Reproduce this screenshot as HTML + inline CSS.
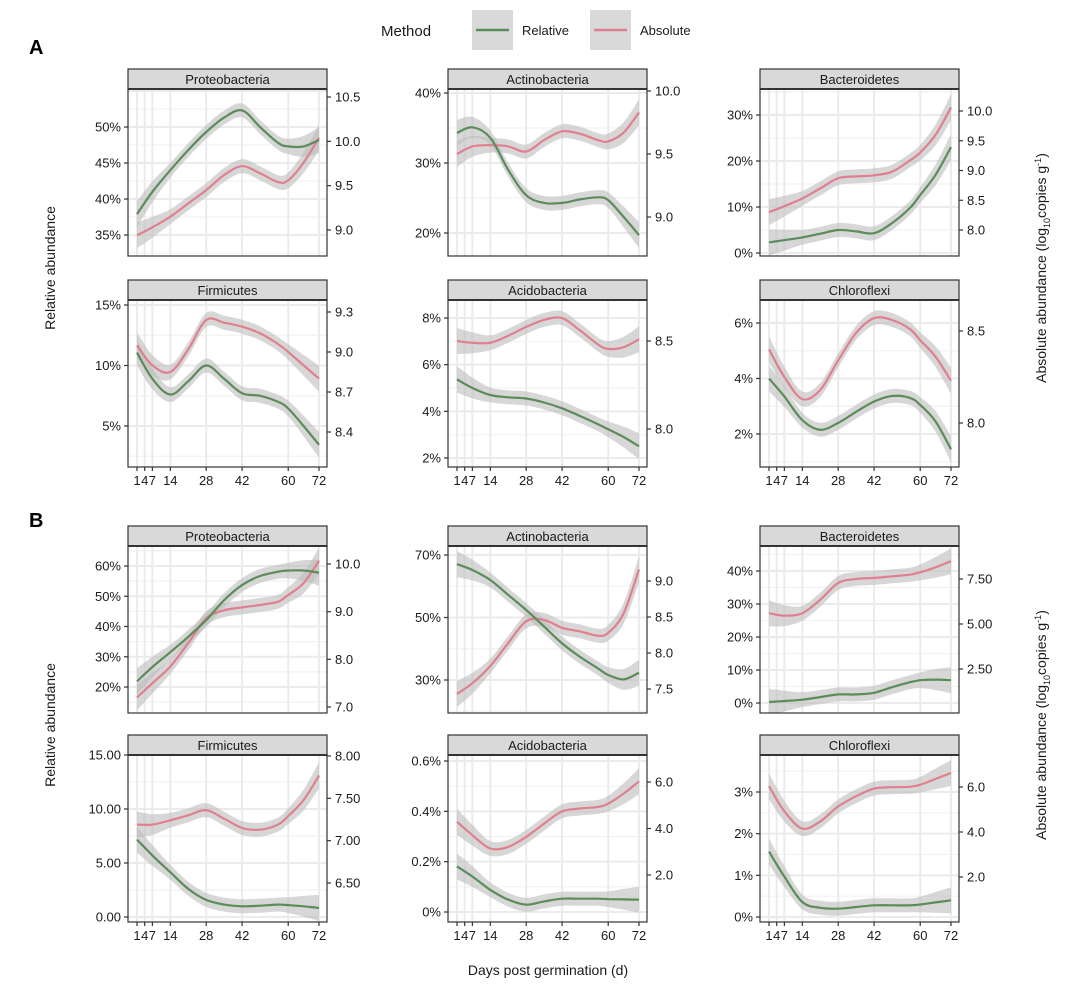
<!DOCTYPE html>
<html><head><meta charset="utf-8"><style>
body{margin:0;background:#fff;}
svg{display:block;font-family:"Liberation Sans",Arial,sans-serif;}
</style></head><body>
<svg id="fig" width="1080" height="984" viewBox="0 0 1080 984" xmlns="http://www.w3.org/2000/svg">
<g>
<text x="381" y="36" font-size="15" fill="#1a1a1a">Method</text>
<rect x="472" y="10" width="41" height="40" fill="#d9d9d9"/>
<line x1="476" y1="30" x2="509" y2="30" stroke="#5b8c5a" stroke-width="2.5"/>
<text x="522" y="35" font-size="13" fill="#1a1a1a">Relative</text>
<rect x="590" y="10" width="41" height="40" fill="#d9d9d9"/>
<line x1="594" y1="30" x2="627" y2="30" stroke="#e0808f" stroke-width="2.5"/>
<text x="640" y="35" font-size="13" fill="#1a1a1a">Absolute</text>
</g>
<text x="29" y="54" font-size="20" font-weight="bold">A</text>
<text x="29" y="527" font-size="20" font-weight="bold">B</text>
<text transform="translate(55,268) rotate(-90)" text-anchor="middle" font-size="14" fill="#1a1a1a">Relative abundance</text>
<text transform="translate(55,725) rotate(-90)" text-anchor="middle" font-size="14" fill="#1a1a1a">Relative abundance</text>
<text transform="translate(1046,268) rotate(-90)" text-anchor="middle" font-size="14" fill="#1a1a1a">Absolute abundance (log<tspan font-size="9" dy="4">10</tspan><tspan dy="-4">copies g</tspan><tspan font-size="9" dy="-5">-1</tspan><tspan dy="5">)</tspan></text>
<text transform="translate(1046,725) rotate(-90)" text-anchor="middle" font-size="14" fill="#1a1a1a">Absolute abundance (log<tspan font-size="9" dy="4">10</tspan><tspan dy="-4">copies g</tspan><tspan font-size="9" dy="-5">-1</tspan><tspan dy="5">)</tspan></text>
<text x="548" y="975" text-anchor="middle" font-size="14" fill="#1a1a1a">Days post germination (d)</text>
</svg>
<script>
const days = [1,7,14,21,28,35,42,49,56,60,66,72];
const xTickDays = [1,4,7,14,28,42,60,72];
const panelNames = ["Proteobacteria","Actinobacteria","Bacteroidetes","Firmicutes","Acidobacteria","Chloroflexi","Proteobacteria","Actinobacteria","Bacteroidetes","Firmicutes","Acidobacteria","Chloroflexi"];
// relative abundance (left axis units)
const relA1 = [37.9,41.0,44.0,46.8,49.3,51.3,52.3,50.0,47.8,47.3,47.3,48.2];
const relA2 = [34.3,35.1,33.6,29.0,25.4,24.3,24.3,24.8,25.1,24.7,22.3,19.7];
const relA3 = [2.3,2.8,3.4,4.2,5.0,4.7,4.3,6.5,9.8,12.6,17.0,23.0];
const relA4 = [11.07,8.9,7.6,8.7,10.0,8.9,7.7,7.5,7.0,6.45,5.0,3.45];
const relA5 = [5.37,5.0,4.7,4.6,4.55,4.38,4.13,3.8,3.45,3.23,2.9,2.5];
const relA6 = [4.0,3.35,2.5,2.15,2.4,2.8,3.17,3.37,3.3,3.05,2.45,1.45];
const relB1 = [21.9,26.6,31.5,36.6,42.1,48.7,53.7,56.7,58.1,58.5,58.5,57.8];
const relB2 = [67.1,65.2,62.0,57.2,52.4,47.1,41.7,37.4,33.7,31.6,30.2,32.3];
const relB3 = [0.3,0.6,1.0,1.8,2.6,2.6,3.1,4.8,6.3,6.9,7.1,6.9];
const relB4 = [7.17,5.7,4.15,2.6,1.58,1.15,0.99,1.05,1.15,1.1,0.99,0.84];
const relB5 = [0.181,0.141,0.088,0.049,0.029,0.042,0.053,0.053,0.053,0.051,0.05,0.049];
const relB6 = [1.57,0.97,0.36,0.22,0.2,0.24,0.28,0.28,0.28,0.30,0.35,0.40];
// absolute abundance (right axis, log10 copies/g)
const absA1 = [8.94,9.03,9.15,9.3,9.45,9.62,9.72,9.64,9.54,9.56,9.76,10.04];
const absA2 = [9.5,9.56,9.57,9.56,9.52,9.61,9.68,9.66,9.61,9.6,9.67,9.83];
const absA3 = [8.3,8.4,8.53,8.7,8.87,8.9,8.92,8.98,9.17,9.3,9.6,10.06];
const absA4 = [9.05,8.9,8.85,9.02,9.24,9.22,9.19,9.14,9.06,9.0,8.9,8.8];
const absA5 = [8.5,8.49,8.49,8.53,8.58,8.62,8.63,8.56,8.48,8.455,8.465,8.51];
const absA6 = [8.40,8.25,8.13,8.18,8.34,8.49,8.57,8.56,8.51,8.45,8.36,8.23];
const absB1 = [7.2,7.5,7.85,8.34,8.86,9.03,9.09,9.14,9.21,9.35,9.6,10.07];
const absB2 = [7.43,7.58,7.82,8.14,8.44,8.46,8.35,8.3,8.24,8.28,8.55,9.16];
const absB3 = [5.6,5.46,5.6,6.35,7.28,7.5,7.56,7.65,7.74,7.87,8.15,8.49];
const absB4 = [7.19,7.19,7.24,7.3,7.36,7.26,7.15,7.13,7.19,7.29,7.48,7.77];
const absB5 = [4.29,3.71,3.14,3.21,3.64,4.21,4.74,4.86,4.93,5.07,5.5,6.03];
const absB6 = [6.03,4.92,4.15,4.47,5.14,5.59,5.93,5.99,6.01,6.1,6.36,6.62];
// axis ticks
const leftTicksA1=[35,40,45,50], rightTicksA1=[9.0,9.5,10.0,10.5];
const leftTicksA2=[20,30,40], rightTicksA2=[9.0,9.5,10.0];
const leftTicksA3=[0,10,20,30], rightTicksA3=[8.0,8.5,9.0,9.5,10.0];
const leftTicksA4=[5,10,15], rightTicksA4=[8.4,8.7,9.0,9.3];
const leftTicksA5=[2,4,6,8], rightTicksA5=[8.0,8.5];
const leftTicksA6=[2,4,6], rightTicksA6=[8.0,8.5];
const leftTicksB1=[20,30,40,50,60], rightTicksB1=[7,8,9,10];
const leftTicksB2=[30,50,70], rightTicksB2=[7.5,8.0,8.5,9.0];
const leftTicksB3=[0,10,20,30,40], rightTicksB3=[2.5,5.0,7.5];
const leftTicksB4=[0,5,10,15], rightTicksB4=[6.5,7.0,7.5,8.0];
const leftTicksB5=[0,0.2,0.4,0.6], rightTicksB5=[2,4,6];
const leftTicksB6=[0,1,2,3], rightTicksB6=[2,4,6];

const NS="http://www.w3.org/2000/svg";
const svg=document.getElementById('fig');
function mk(tag,attrs,parent){const e=document.createElementNS(NS,tag);for(const k in attrs)e.setAttribute(k,attrs[k]);(parent||svg).appendChild(e);return e;}
const colX=[128,448,760], W=199, H=167;
const stripTop=[69,280,526,735];
// axis calibration: [v1,y1,v2,y2] (pixel y relative to page)
const panels=[
 {rel:relA1,abs:absA1,lt:leftTicksA1,rt:rightTicksA1,L:[35,235,50,127],R:[9.0,230,10.5,97],lf:v=>v+'%',rf:v=>v.toFixed(1)},
 {rel:relA2,abs:absA2,lt:leftTicksA2,rt:rightTicksA2,L:[20,233,40,93],R:[9.0,217,10.0,91],lf:v=>v+'%',rf:v=>v.toFixed(1)},
 {rel:relA3,abs:absA3,lt:leftTicksA3,rt:rightTicksA3,L:[0,253,30,115],R:[8.0,230,10.0,111],lf:v=>v+'%',rf:v=>v.toFixed(1)},
 {rel:relA4,abs:absA4,lt:leftTicksA4,rt:rightTicksA4,L:[5,426,15,305],R:[8.4,432,9.3,312],lf:v=>v+'%',rf:v=>v.toFixed(1)},
 {rel:relA5,abs:absA5,lt:leftTicksA5,rt:rightTicksA5,L:[2,458,8,318],R:[8.0,429,8.5,341],lf:v=>v+'%',rf:v=>v.toFixed(1)},
 {rel:relA6,abs:absA6,lt:leftTicksA6,rt:rightTicksA6,L:[2,434,6,323],R:[8.0,423,8.5,331],lf:v=>v+'%',rf:v=>v.toFixed(1)},
 {rel:relB1,abs:absB1,lt:leftTicksB1,rt:rightTicksB1,L:[20,687,60,566],R:[7,707,10,564],lf:v=>v+'%',rf:v=>v.toFixed(1)},
 {rel:relB2,abs:absB2,lt:leftTicksB2,rt:rightTicksB2,L:[30,680,70,555],R:[7.5,689,9.0,581],lf:v=>v+'%',rf:v=>v.toFixed(1)},
 {rel:relB3,abs:absB3,lt:leftTicksB3,rt:rightTicksB3,L:[0,703,40,571],R:[2.5,669,7.5,579],lf:v=>v+'%',rf:v=>v.toFixed(2)},
 {rel:relB4,abs:absB4,lt:leftTicksB4,rt:rightTicksB4,L:[0,917,15,755],R:[6.5,883,8.0,756],lf:v=>v.toFixed(2),rf:v=>v.toFixed(2)},
 {rel:relB5,abs:absB5,lt:leftTicksB5,rt:rightTicksB5,L:[0,912,0.6,761],R:[2,875,6,782],lf:v=>(v===0?'0':v.toFixed(1))+'%',rf:v=>v.toFixed(1)},
 {rel:relB6,abs:absB6,lt:leftTicksB6,rt:rightTicksB6,L:[0,917,3,792],R:[2,877,6,787],lf:v=>v+'%',rf:v=>v.toFixed(1)}
];
function lin(c){return v=>c[1]+(v-c[0])*(c[3]-c[1])/(c[2]-c[0]);}
function smooth(pts){let d='M'+pts[0][0].toFixed(1)+','+pts[0][1].toFixed(1);
 for(let i=0;i<pts.length-1;i++){const p0=pts[Math.max(0,i-1)],p1=pts[i],p2=pts[i+1],p3=pts[Math.min(pts.length-1,i+2)];
  const c1=[p1[0]+(p2[0]-p0[0])/6,p1[1]+(p2[1]-p0[1])/6],c2=[p2[0]-(p3[0]-p1[0])/6,p2[1]-(p3[1]-p1[1])/6];
  d+=' C'+c1[0].toFixed(1)+','+c1[1].toFixed(1)+' '+c2[0].toFixed(1)+','+c2[1].toFixed(1)+' '+p2[0].toFixed(1)+','+p2[1].toFixed(1);}
 return d;}
function smoothCont(pts){return smooth(pts).replace(/^M/,'L');}
panels.forEach((p,i)=>{
 const row=Math.floor(i/3), col=i%3;
 const x0=colX[col], st=stripTop[row], y0=st+20, y1=y0+H;
 const xs=d=>x0+9+(d-1)*2.563;
 const ly=lin(p.L), ry=lin(p.R);
 const g=mk('g',{});
 
 
 mk('rect',{x:x0,y:y0,width:W,height:H,fill:'#fff'},g);
 const clip=mk('clipPath',{id:'c'+i},g);mk('rect',{x:x0,y:y0,width:W,height:H},clip);
 const grid=mk('g',{'clip-path':'url(#c'+i+')'},g);
 // minor + major horizontal grid
 const step=p.lt[1]-p.lt[0];
 for(let v=p.lt[0]-step*2;v<=p.lt[p.lt.length-1]+step*2;v+=step/2){
  const y=ly(v); if(y<y0||y>y1)continue;
  const major=Math.abs(((v-p.lt[0])/step)-Math.round((v-p.lt[0])/step))<1e-6;
  mk('line',{x1:x0,x2:x0+W,y1:y,y2:y,stroke:major?'#ebebeb':'#f2f2f2','stroke-width':major?2:1.2},grid);}
 xTickDays.forEach(d=>mk('line',{x1:xs(d),x2:xs(d),y1:y0,y2:y1,stroke:'#ebebeb','stroke-width':2},grid));
 // series
 const series=[[p.abs,ry,'#e0808f','absolute'],[p.rel,ly,'#5b8c5a','relative']];
 series.forEach(s=>{
  const pts=days.map((d,k)=>[xs(d),s[1](s[0][k])]);
  const hw=days.map(d=>{const e=Math.min(d-1,72-d);return 7+6*Math.max(0,1-e/14);});
  const up=pts.map((q,k)=>[q[0],q[1]-hw[k]]), lo=pts.map((q,k)=>[q[0],q[1]+hw[k]]).reverse();
  const rib=mk('path',{d:smooth(up)+' '+smoothCont(lo)+' Z',fill:'#bdbdbd','fill-opacity':0.6},grid);
  
  
 });
 series.forEach(s=>{
  const pts=days.map((d,k)=>[xs(d),s[1](s[0][k])]);
  const ln=mk('path',{d:smooth(pts),fill:'none',stroke:s[2],'stroke-width':2.2},grid);
  
  
 });
 mk('rect',{x:x0,y:y0,width:W,height:H,fill:'none',stroke:'#333','stroke-width':1.2},g);
 // strip
 const sr=mk('rect',{x:x0,y:st,width:W,height:20,fill:'#d9d9d9',stroke:'#333','stroke-width':1.2},g);
 
 
 mk('line',{x1:x0,x2:x0+W,y1:y0,y2:y0,stroke:'#333','stroke-width':2},g);
 const stx=mk('text',{x:x0+W/2,y:st+15,'text-anchor':'middle','font-size':13,fill:'#1a1a1a'},g);
 stx.textContent=panelNames[i];
 
 
 // left ticks
 p.lt.forEach(v=>{const y=ly(v);
  mk('line',{x1:x0-4,x2:x0,y1:y,y2:y,stroke:'#333','stroke-width':1.2},g);
  const t=mk('text',{x:x0-7,y:y+4.5,'text-anchor':'end','font-size':13,fill:'#1a1a1a'},g);t.textContent=p.lf(v);
  
  });
 p.rt.forEach(v=>{const y=ry(v);
  mk('line',{x1:x0+W,x2:x0+W+4,y1:y,y2:y,stroke:'#333','stroke-width':1.2},g);
  const t=mk('text',{x:x0+W+8,y:y+4.5,'font-size':13,fill:'#1a1a1a'},g);t.textContent=p.rf(v);
  
  });
 if(row===1||row===3){
  xTickDays.forEach(d=>{const x=xs(d);
   mk('line',{x1:x,x2:x,y1:y1,y2:y1+4,stroke:'#333','stroke-width':1.2},g);
   const t=mk('text',{x:x,y:y1+18,'text-anchor':'middle','font-size':13,fill:'#1a1a1a'},g);t.textContent=d;
   
   });
 }
});
</script>
</body></html>
